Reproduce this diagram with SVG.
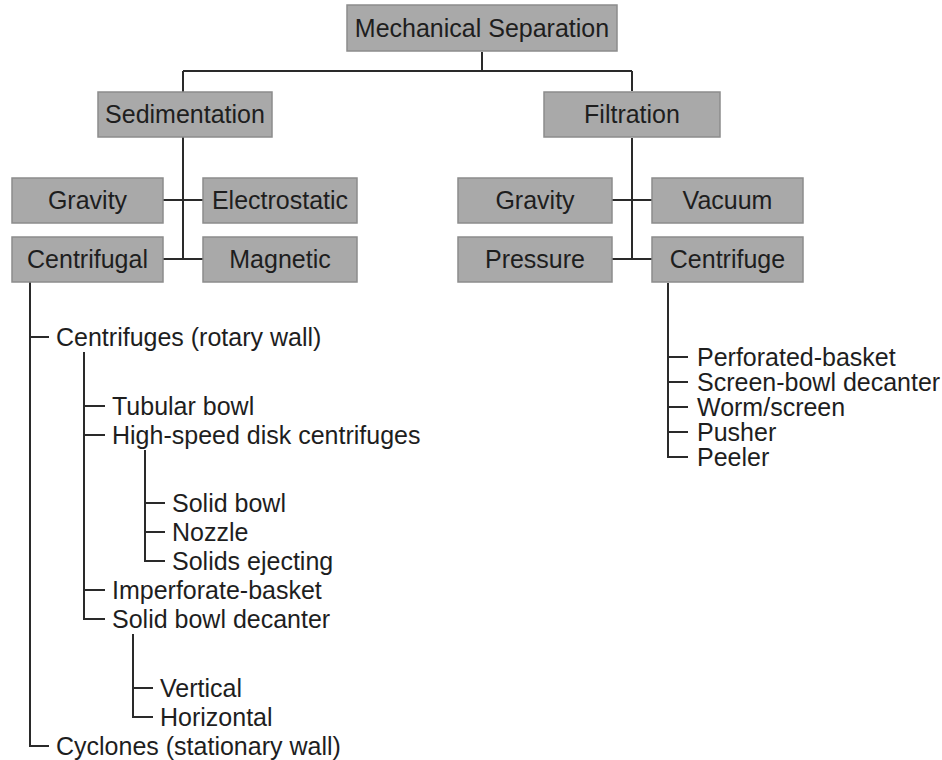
<svg xmlns="http://www.w3.org/2000/svg" width="942" height="760" viewBox="0 0 942 760">
  <style>
    .box rect { fill: #a9a9a9; stroke: #8c8c8c; stroke-width: 1.5; }
    .box text { font-family: "Liberation Sans", Arial, sans-serif; font-size: 25px; fill: #1e1e1e; text-anchor: middle; }
    .item { font-family: "Liberation Sans", Arial, sans-serif; font-size: 25px; fill: #1e1e1e; }
    .links path { fill: none; stroke: #2a2a2a; stroke-width: 2; }
  </style>
  <rect width="942" height="760" fill="#ffffff"/>

  <!-- connectors -->
  <g class="links">
    <path d="M482 52 V71 M183 71 H632 M183 71 V92 M632 71 V91"/>
    <path d="M183 137 V259 M163 200 H203 M163 259 H203"/>
    <path d="M632 138 V259 M612 200 H652 M612 259 H652"/>
    <!-- centrifugal tree -->
    <path d="M30 282 V746 H49 M30 337 H49"/>
    <path d="M84 352 V619 H105 M84 406 H105 M84 435 H105 M84 590 H105"/>
    <path d="M145 450 V561 H165 M145 503 H165 M145 532 H165"/>
    <path d="M133 634 V717 H153 M133 688 H153"/>
    <!-- centrifuge tree -->
    <path d="M668 283 V457 H688 M668 357 H688 M668 382 H688 M668 407 H688 M668 432 H688"/>
  </g>

  <g id="mechanical-separation" class="box"><rect x="347" y="5" width="270" height="46"/><text x="482" y="37">Mechanical Separation</text></g>
  <g id="sedimentation" class="box"><rect x="98" y="92" width="174" height="45"/><text x="185" y="123">Sedimentation</text></g>
  <g id="filtration" class="box"><rect x="544" y="92" width="176" height="45"/><text x="632" y="123">Filtration</text></g>

  <g id="sed-gravity" class="box"><rect x="12" y="178" width="151" height="45"/><text x="87.5" y="209">Gravity</text></g>
  <g id="electrostatic" class="box"><rect x="203" y="178" width="154" height="45"/><text x="280" y="209">Electrostatic</text></g>
  <g id="centrifugal" class="box"><rect x="12" y="237" width="151" height="45"/><text x="87.5" y="268">Centrifugal</text></g>
  <g id="magnetic" class="box"><rect x="203" y="237" width="154" height="45"/><text x="280" y="268">Magnetic</text></g>

  <g id="fil-gravity" class="box"><rect x="458" y="178" width="154" height="45"/><text x="535" y="209">Gravity</text></g>
  <g id="vacuum" class="box"><rect x="652" y="178" width="151" height="45"/><text x="727.5" y="209">Vacuum</text></g>
  <g id="pressure" class="box"><rect x="458" y="237" width="154" height="45"/><text x="535" y="268">Pressure</text></g>
  <g id="centrifuge" class="box"><rect x="652" y="237" width="151" height="45"/><text x="727.5" y="268">Centrifuge</text></g>

  <!-- centrifugal sub-types -->
  <g id="centrifugal-list">
    <text class="item" x="56" y="346">Centrifuges (rotary wall)</text>
    <text class="item" x="112" y="415">Tubular bowl</text>
    <text class="item" x="112" y="444">High-speed disk centrifuges</text>
    <text class="item" x="172" y="512">Solid bowl</text>
    <text class="item" x="172" y="541">Nozzle</text>
    <text class="item" x="172" y="570">Solids ejecting</text>
    <text class="item" x="112" y="599">Imperforate-basket</text>
    <text class="item" x="112" y="628">Solid bowl decanter</text>
    <text class="item" x="160" y="697">Vertical</text>
    <text class="item" x="160" y="726">Horizontal</text>
    <text class="item" x="56" y="755">Cyclones (stationary wall)</text>
  </g>

  <!-- centrifuge filter sub-types -->
  <g id="centrifuge-list">
    <text class="item" x="697" y="366">Perforated-basket</text>
    <text class="item" x="697" y="391">Screen-bowl decanter</text>
    <text class="item" x="697" y="416">Worm/screen</text>
    <text class="item" x="697" y="441">Pusher</text>
    <text class="item" x="697" y="466">Peeler</text>
  </g>
</svg>
